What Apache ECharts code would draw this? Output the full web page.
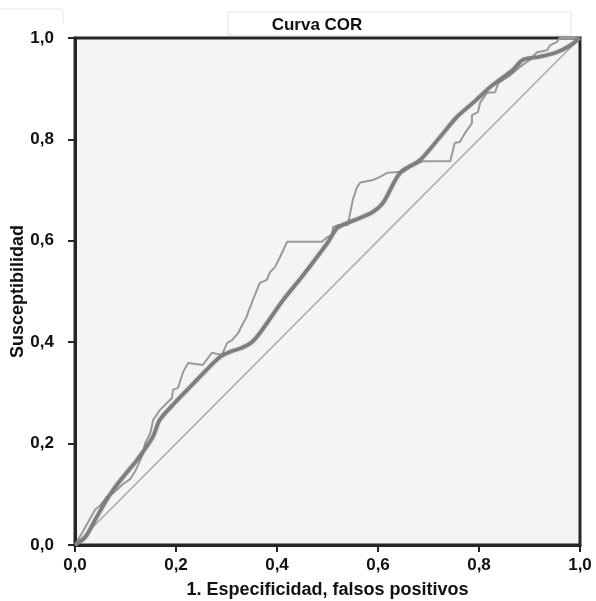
<!DOCTYPE html>
<html>
<head>
<meta charset="utf-8">
<script src="https://cdn.jsdelivr.net/npm/echarts@6/dist/echarts.min.js"></script>
<style>html,body{margin:0;padding:0;background:#fff;}#c{width:596px;height:601px;}</style>
</head>
<body>
<div id="c"></div>
<script>
var titleText = 'Curva COR';
var xName = '1. Especificidad, falsos positivos';
var yName = 'Susceptibilidad';
var tickValues = [0, 0.2, 0.4, 0.6, 0.8, 1.0];

// smoothed ROC curve (thick)
var smoothX = [0,0.02,0.04,0.06,0.075,0.1,0.123,0.154,0.168,0.2,0.234,0.26,0.287,0.31,0.333,0.35,0.366,0.412,0.45,0.5,0.519,0.539,0.564,0.59,0.61,0.644,0.683,0.723,0.756,0.788,0.822,0.84,0.867,0.887,0.92,0.954,0.98,1];
var smoothY = [0,0.015,0.05,0.085,0.108,0.14,0.168,0.213,0.247,0.283,0.318,0.345,0.371,0.382,0.39,0.40,0.418,0.483,0.53,0.596,0.625,0.635,0.645,0.657,0.675,0.734,0.759,0.805,0.844,0.872,0.903,0.917,0.937,0.957,0.963,0.972,0.985,1];

// empirical ROC curve (thin, stepped)
var empX = [0,0.014,0.04,0.05,0.063,0.075,0.095,0.109,0.119,0.125,0.135,0.139,0.149,0.155,0.168,0.182,0.192,0.194,0.204,0.214,0.224,0.253,0.271,0.291,0.301,0.311,0.323,0.331,0.34,0.343,0.35,0.352,0.366,0.38,0.386,0.396,0.406,0.42,0.489,0.499,0.509,0.511,0.521,0.54,0.545,0.55,0.558,0.565,0.59,0.604,0.618,0.65,0.663,0.689,0.743,0.752,0.762,0.772,0.786,0.786,0.798,0.802,0.816,0.832,0.838,0.86,0.881,0.901,0.915,0.935,0.941,0.954,0.96,1];
var empY = [0,0.024,0.07,0.078,0.095,0.102,0.12,0.13,0.145,0.158,0.181,0.201,0.221,0.247,0.266,0.28,0.29,0.306,0.31,0.341,0.359,0.355,0.379,0.375,0.398,0.404,0.418,0.434,0.45,0.46,0.477,0.483,0.517,0.523,0.538,0.548,0.568,0.598,0.598,0.607,0.611,0.627,0.631,0.631,0.655,0.68,0.705,0.715,0.72,0.726,0.734,0.736,0.746,0.757,0.757,0.793,0.795,0.812,0.832,0.848,0.854,0.872,0.892,0.893,0.911,0.925,0.943,0.957,0.972,0.976,0.986,0.992,1,1];

// reference diagonal
var diagX = [0, 1];
var diagY = [0, 1];

function zip(a, b) { return a.map(function (v, i) { return [v, b[i]]; }); }
function fmt(v) { return v.toFixed(1).replace('.', ','); }

var chart = echarts.init(document.getElementById('c'), null, {renderer: 'canvas'});
var FF = 'Liberation Sans, Arial, sans-serif';
var tickFont = {fontFamily: FF, fontWeight: 'bold', fontSize: 17, color: '#111'};
var nameFont = {fontFamily: FF, fontWeight: 'bold', fontSize: 18, color: '#111'};

chart.setOption({
  backgroundColor: '#ffffff',
  animation: false,
  title: {
    text: titleText,
    left: 312, top: 12, textAlign: 'center',
    textStyle: {fontFamily: FF, fontWeight: 'bold', fontSize: 17, color: '#111'}
  },
  graphic: [
    {type: 'rect', shape: {x: 228, y: 12, width: 343, height: 23}, style: {fill: 'none', stroke: '#e4e4e4', lineWidth: 1}, z: -1},
    {type: 'polyline', shape: {points: [[0, 9], [61, 9], [63, 11], [63, 24]]}, style: {fill: 'none', stroke: '#e8e8e8', lineWidth: 1}, z: -1}
  ],
  grid: {
    left: 75, right: 16, top: 38, bottom: 56,
    containLabel: false, outerBoundsMode: 'none',
    show: true, backgroundColor: '#f4f4f4', borderColor: '#262626', borderWidth: 3
  },
  xAxis: {
    type: 'value', min: 0, max: 1, interval: 0.2,
    name: xName, nameLocation: 'middle', nameGap: 36, nameMoveOverlap: false,
    nameTextStyle: nameFont,
    axisLine: {show: true, lineStyle: {color: '#262626', width: 3}},
    axisTick: {show: true, length: 7, lineStyle: {color: '#262626', width: 2}},
    axisLabel: Object.assign({margin: 12, formatter: function (v) { return fmt(v); }}, tickFont),
    splitLine: {show: false}
  },
  yAxis: {
    type: 'value', min: 0, max: 1, interval: 0.2,
    name: yName, nameLocation: 'middle', nameGap: 48, nameRotate: 90, nameMoveOverlap: false,
    nameTextStyle: nameFont,
    axisLine: {show: true, lineStyle: {color: '#262626', width: 3}},
    axisTick: {show: true, length: 7, lineStyle: {color: '#262626', width: 2}},
    axisLabel: Object.assign({margin: 21, formatter: function (v) { return fmt(v); }}, tickFont),
    splitLine: {show: false}
  },
  series: [
    {type: 'line', data: zip(diagX, diagY), symbol: 'none', silent: true,
     lineStyle: {color: '#a8a8a8', width: 1.5}, z: 2},
    {type: 'line', data: zip(empX, empY), symbol: 'none', silent: true,
     lineStyle: {color: '#9a9a9a', width: 2}, z: 3},
    {type: 'line', data: zip(smoothX, smoothY), symbol: 'none', silent: true, smooth: 0.3,
     lineStyle: {color: '#7e7e7e', width: 3.8, shadowBlur: 2, shadowColor: 'rgba(0,0,0,0.25)'}, z: 4}
  ]
});
</script>
</body>
</html>
